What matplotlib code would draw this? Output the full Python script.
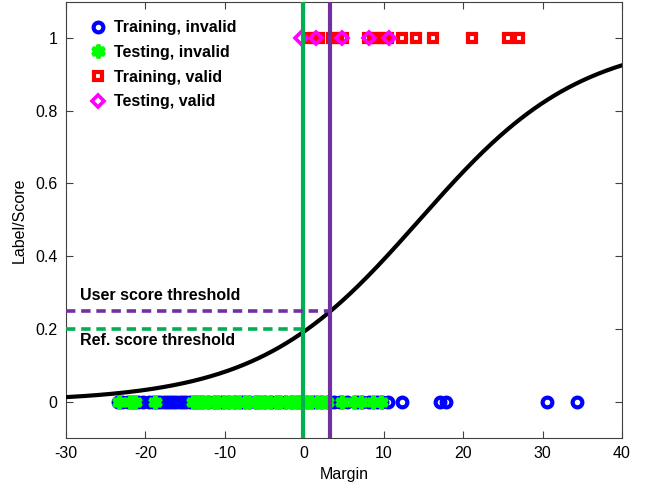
"""Margin-to-score calibration plot with decision thresholds."""
import numpy as np
import matplotlib
matplotlib.use("Agg")
import matplotlib.pyplot as plt

plt.rcParams["font.family"] = ["Liberation Sans", "DejaVu Sans"]
plt.rcParams["axes.unicode_minus"] = False

# margins of the labelled samples
train_invalid = [-23.5, -22.9, -22.2, -21.6, -20.9, -20.3, -19.6, -19.0, -18.5, -18.1,
                 -17.7, -17.3, -16.9, -16.5, -16.1, -15.7, -15.3, -14.9, -14.4, -13.8,
                 -13.0, -12.1, -11.3, -10.4, -9.6, -8.7, -7.8, -6.9, -6.0, -5.1, -4.2,
                 -3.3, -2.4, -1.5, -0.6, 0.3, 1.2, 2.1, 3.0, 3.8, 4.5, 5.4, 6.6, 7.3,
                 8.1, 9.1, 9.8, 10.6, 12.3, 17.1, 17.9, 30.5, 34.3]
test_invalid = [-23.3, -21.9, -21.3, -18.8, -14.0, -13.4, -12.7, -12.1, -11.4, -10.8,
                -10.1, -9.5, -8.8, -8.2, -7.5, -6.9, -6.2, -5.6, -4.9, -4.3, -3.6,
                -3.0, -2.3, -1.7, -1.0, -0.4, 0.3, 0.9, 1.6, 2.2, 2.8, 4.7, 6.2, 7.2,
                8.7, 9.7]
train_valid = [0.5, 1.2, 1.9, 3.5, 4.2, 4.9, 8.0, 8.7, 9.3, 10.0, 10.6, 12.3, 14.1, 16.2,
               21.1, 25.6, 27.0]
test_valid = [-0.4, 1.5, 4.8, 8.2, 10.7]

# fitted logistic score: 1 / (1 + exp(-(a + b * margin)))
fit_a = -1.43
fit_b = 0.0985

ref_margin, ref_score = -0.2, 0.2
user_margin, user_score = 3.3, 0.25

GREEN = "#00b050"
PURPLE = "#7030a0"

fig = plt.figure(figsize=(6.5, 4.86), dpi=100)
ax = fig.add_axes([0.1015, 0.0988, 0.8554, 0.8979])

ms_kw = dict(linestyle="none", zorder=3)
ax.plot(train_invalid, np.zeros(len(train_invalid)), marker="o", ms=7.0, mew=3.0,
        mfc="none", mec="#0000ff", label="Training, invalid", **ms_kw)
ax.plot(test_invalid, np.zeros(len(test_invalid)), marker=(6, 1, 0), ms=9.5, mew=2.8,
        mfc="#00ff00", mec="#00ff00", label="Testing, invalid", **ms_kw)
ax.plot(train_valid, np.ones(len(train_valid)), marker="s", ms=6.4, mew=3.0,
        mfc="none", mec="#ff0000", label="Training, valid", **ms_kw)
ax.plot(test_valid, np.ones(len(test_valid)), marker="D", ms=6.0, mew=2.6,
        mfc="none", mec="#ff00ff", label="Testing, valid", **ms_kw)

xs = np.linspace(-30, 40, 400)
ax.plot(xs, 1.0 / (1.0 + np.exp(-(fit_a + fit_b * xs))), color="black", lw=3.0, zorder=4)

ax.axvline(ref_margin, color=GREEN, lw=3.0, zorder=5)
ax.axvline(user_margin, color=PURPLE, lw=3.0, zorder=5)
ax.plot([-30, ref_margin], [ref_score, ref_score], color=GREEN, lw=2.6,
        dashes=(2.6, 1.6), zorder=5)
ax.plot([-30, user_margin], [user_score, user_score], color=PURPLE, lw=2.6,
        dashes=(2.6, 1.6), zorder=5)

ax.text(-28.2, 0.291, "User score threshold", fontsize=11.5, fontweight="bold", va="center")
ax.text(-28.2, 0.168, "Ref. score threshold", fontsize=11.5, fontweight="bold", va="center")

ax.set_xlim(-30, 40)
ax.set_ylim(-0.1, 1.1)
ax.set_xticks(range(-30, 41, 10))
ax.set_yticks([0, 0.2, 0.4, 0.6, 0.8, 1])
ax.set_yticklabels(["0", "0.2", "0.4", "0.6", "0.8", "1"])
ax.tick_params(direction="in", top=True, right=True, length=5, width=0.8,
               labelsize=11.5, color="#404040", pad=6)
for sp in ax.spines.values():
    sp.set_color("#404040")
    sp.set_linewidth(0.8)
ax.set_xlabel("Margin", fontsize=11.5, labelpad=4)
ax.set_ylabel("Label/Score", fontsize=11.5, labelpad=6)

ax.legend(loc="upper left", bbox_to_anchor=(0.017, 0.99), frameon=False,
          handlelength=1.0, handletextpad=0.5, labelspacing=0.6,
          prop={"weight": "bold", "size": 11.5})

fig.savefig("out.png", dpi=100)
